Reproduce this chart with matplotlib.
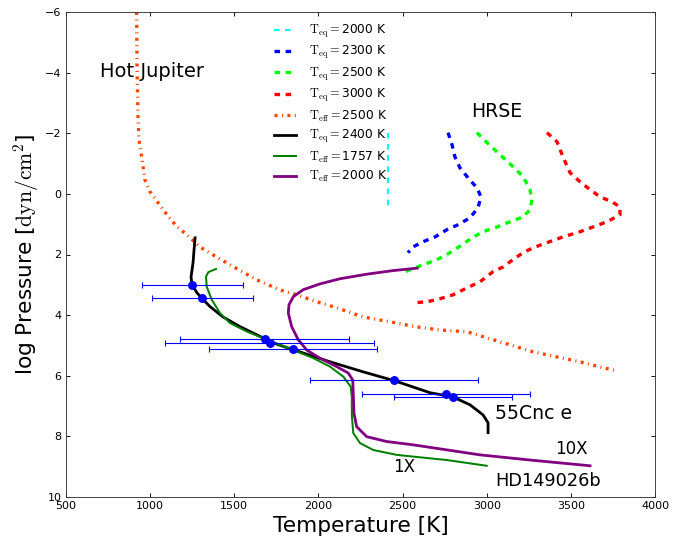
import matplotlib
matplotlib.use("Agg")
import matplotlib.pyplot as plt

plt.rcParams['font.family'] = ['DejaVu Sans']
plt.rcParams['mathtext.fontset'] = 'cm'
plt.rcParams['lines.scale_dashes'] = False

# ---- data ----
teq2000_T = [2415, 2415, 2415, 2415]
teq2000_P = [-2.0, -1.0, 0.0, 0.52]

teq2300_T = [2770, 2794, 2811, 2841, 2889, 2942, 2966, 2948, 2901, 2829, 2764, 2693, 2621, 2562, 2532]
teq2300_P = [-2.02, -1.62, -1.22, -0.86, -0.53, -0.20, 0.10, 0.46, 0.79, 1.02, 1.18, 1.42, 1.58, 1.75, 1.94]

teq2500_T = [2942, 3002, 3079, 3156, 3216, 3257, 3269, 3257, 3216, 3138, 3061, 2978, 2912, 2853, 2782, 2704, 2621, 2574, 2514]
teq2500_P = [-2.02, -1.69, -1.29, -0.90, -0.57, -0.14, 0.19, 0.52, 0.76, 0.92, 1.09, 1.25, 1.45, 1.68, 1.94, 2.17, 2.34, 2.44, 2.57]

teq3000_T = [3358, 3418, 3453, 3495, 3554, 3614, 3674, 3744, 3792, 3792, 3715, 3632, 3554, 3453, 3358, 3275, 3216,
             3156, 3097, 3037, 2960, 2883, 2800, 2722, 2645, 2574]
teq3000_P = [-2.02, -1.72, -1.22, -0.70, -0.40, -0.14, 0.10, 0.26, 0.43, 0.69, 0.92, 1.09, 1.25, 1.42, 1.61, 1.78, 1.94,
             2.17, 2.41, 2.57, 2.90, 3.10, 3.33, 3.46, 3.56, 3.59]

teff2500_T = [920, 922, 928, 934, 946, 958, 969, 999, 1047, 1100, 1160, 1219, 1296, 1373, 1474, 1635, 1772, 1873, 1991,
              2110, 2265, 2425, 2586, 2722, 2883, 3002, 3138, 3275, 3418, 3554, 3673, 3774]
teff2500_P = [-6.0, -4.19, -2.54, -1.78, -1.36, -0.89, -0.46, -0.07, 0.29, 0.69, 1.09, 1.35, 1.75, 2.01, 2.34, 2.84, 3.17,
              3.33, 3.56, 3.76, 4.06, 4.22, 4.39, 4.49, 4.55, 4.75, 4.98, 5.21, 5.38, 5.54, 5.71, 5.84]

teq2400_T = [1267, 1261, 1255, 1243, 1249, 1278, 1308, 1356, 1433, 1534, 1671, 1712, 1849, 2069, 2265, 2455, 2663, 2800,
             2901, 2978, 3008, 3008]
teq2400_P = [1.45, 1.84, 2.27, 2.74, 3.00, 3.26, 3.45, 3.72, 4.06, 4.38, 4.75, 4.88, 5.14, 5.54, 5.87, 6.17, 6.56, 6.70,
             6.96, 7.29, 7.55, 7.88]

teff1757_T = [1391, 1346, 1332, 1336, 1366, 1415, 1474, 1574, 1672, 1772, 1871, 1970, 2069, 2148, 2192, 2198, 2199, 2207,
              2247, 2326, 2465, 2603, 2762, 3000]
teff1757_P = [2.48, 2.58, 2.73, 3.06, 3.49, 3.93, 4.26, 4.54, 4.76, 4.98, 5.20, 5.42, 5.70, 6.03, 6.36, 6.69, 7.35, 7.89,
              8.22, 8.45, 8.61, 8.69, 8.78, 8.97]

teff2000_T = [2587, 2445, 2287, 2128, 2009, 1910, 1851, 1825, 1821, 1841, 1880, 1930, 2009, 2109, 2177, 2204, 2207, 2211,
              2227, 2287, 2406, 2564, 2960, 3257, 3614]
teff2000_P = [2.45, 2.53, 2.65, 2.80, 2.97, 3.16, 3.39, 3.66, 3.93, 4.38, 4.81, 5.15, 5.42, 5.70, 5.91, 6.14, 6.57, 7.23,
              7.68, 8.01, 8.17, 8.28, 8.61, 8.78, 8.97]

obs_T = [1250, 1310, 1680, 1710, 1850, 2450, 2760, 2800]
obs_P = [3.00, 3.45, 4.79, 4.92, 5.12, 6.15, 6.60, 6.70]
obs_Terr = [300, 300, 500, 620, 500, 500, 500, 350]

labels = [r'$\mathrm{T_{eq}=}$2000 K', r'$\mathrm{T_{eq}=}$2300 K', r'$\mathrm{T_{eq}=}$2500 K',
          r'$\mathrm{T_{eq}=}$3000 K', r'$\mathrm{T_{eff}=}$2500 K', r'$\mathrm{T_{eq}=}$2400 K',
          r'$\mathrm{T_{eff}=}$1757 K', r'$\mathrm{T_{eff}=}$2000 K']

# ---- figure ----
fig = plt.figure(figsize=(691 / 80, 542 / 80), dpi=80)
ax = fig.add_axes([66 / 691, 1 - 497 / 542, 589 / 691, 485 / 542])

dash = (5, 5)
ax.plot(teq2000_T, teq2000_P, color='cyan', lw=2, dashes=dash, label=labels[0])
ax.plot(teq2300_T, teq2300_P, color='blue', lw=3, dashes=dash, label=labels[1])
ax.plot(teq2500_T, teq2500_P, color='lime', lw=3, dashes=dash, label=labels[2])
ax.plot(teq3000_T, teq3000_P, color='red', lw=3, dashes=dash, label=labels[3])
ax.plot(teff2500_T, teff2500_P, color='orangered', lw=3, dashes=(2.7, 4, 0.9, 4), label=labels[4])
ax.plot(teq2400_T, teq2400_P, color='black', lw=2.5, label=labels[5])
ax.plot(teff1757_T, teff1757_P, color='green', lw=1.8, label=labels[6])
ax.plot(teff2000_T, teff2000_P, color='purple', lw=2.5, label=labels[7])

ax.errorbar(obs_T, obs_P, xerr=obs_Terr, fmt='o', color='blue', ms=7, elinewidth=1, capsize=3, capthick=1,
            zorder=5)

ax.set_xlim(500, 4000)
ax.set_ylim(10, -6)
ax.set_xticks([500, 1000, 1500, 2000, 2500, 3000, 3500, 4000])
ax.set_yticks([-6, -4, -2, 0, 2, 4, 6, 8, 10])
ax.tick_params(direction='in', top=True, right=True, length=4, labelsize=10, pad=4)
for s in ax.spines.values():
    s.set_color('#333333')

ax.set_xlabel('Temperature [K]', fontsize=19.5)
ax.set_ylabel(r'log Pressure [$\mathrm{dyn/cm^2}$]', fontsize=19.5)

ax.text(702, -4.03, 'Hot Jupiter', fontsize=17.5, va='center', ha='left')
ax.text(2905, -2.71, 'HRSE', fontsize=17, va='center', ha='left')
ax.text(3049, 7.25, '55Cnc e', fontsize=17, va='center', ha='left')
ax.text(3406, 8.41, '10X', fontsize=15, va='center', ha='left')
ax.text(2444, 9.0, '1X', fontsize=15, va='center', ha='left')
ax.text(3053, 9.47, 'HD149026b', fontsize=16, va='center', ha='left')

ax.legend(loc='upper left', bbox_to_anchor=(0.335, 1.0), frameon=False, fontsize=11,
          handlelength=1.8, handletextpad=1.0, labelspacing=0.36)

fig.savefig('out.png', dpi=80)
